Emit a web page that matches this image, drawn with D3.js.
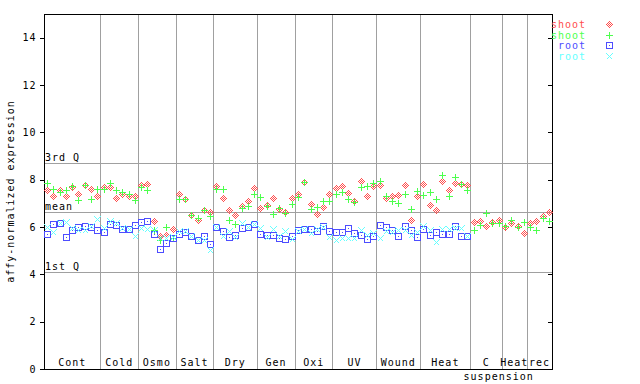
<!DOCTYPE html>
<html>
<head>
<meta charset="utf-8">
<script src="https://cdn.jsdelivr.net/npm/d3@7"></script>
<style>
  body { margin: 0; background: #fff; }
  svg text { font-family: 'DejaVu Sans Mono', monospace; font-size: 10px; letter-spacing: 1px; }
</style>
</head>
<body>
<div id="chart"></div>
<script>
const groupNames = ['Cont', 'Cold', 'Osmo', 'Salt', 'Dry', 'Gen', 'Oxi', 'UV', 'Wound', 'Heat', 'C', 'Heat', 'rec'];
const groupSizes = [9, 6, 6, 6, 7, 6, 6, 7, 7, 8, 5, 4, 4];

const shootA = [7.57, 7.29, 7.57, 7.29, 7.71, 7.38, 7.76, 7.60, 7.32,
  7.71, 7.69, 7.22, 7.41, 7.32, 7.33,
  7.79, 7.83, 6.27, 5.62, 5.68, 5.91,
  7.41, 7.18, 6.49, 6.28, 6.73, 6.62,
  7.74, 7.22, 6.73, 6.52, 6.90, 7.08, 7.65,
  6.80, 6.94, 7.22, 6.76, 6.64, 7.22,
  7.41, 7.89, 6.98, 6.56, 6.86, 7.41,
  7.65, 7.74, 7.45, 7.09, 7.93, 7.32, 7.73,
  7.78, 7.22, 7.32, 7.36, 7.79, 6.31, 7.32,
  7.83, 6.94, 6.73, 7.94, 7.57, 7.86, 7.80, 7.79,
  6.21, 6.27, 6.05, 6.22, 6.31,
  6.00, 6.17, 6.05, 5.74,
  6.19, 6.27, 6.45, 6.63];
const shootB = [7.86, 7.60, 7.46, 7.57, 7.74, 7.12, 7.79, 7.18, 7.60,
  7.60, 7.86, 7.57, 7.49, 7.41, 7.15,
  7.69, 7.57, 5.89, 5.46, 6.00, 5.53,
  7.18, 7.18, 6.52, 6.38, 6.70, 6.48,
  7.60, 7.60, 6.31, 6.14, 6.80, 6.90, 7.41,
  7.27, 6.87, 6.56, 6.80, 6.60, 6.98,
  7.27, 7.89, 6.76, 6.84, 7.08, 7.08,
  7.41, 7.50, 7.18, 7.07, 7.69, 7.74, 7.86,
  7.96, 7.30, 7.11, 7.01, 7.41, 6.76, 7.53,
  7.36, 7.48, 7.18, 8.21, 7.30, 8.12, 7.83, 7.56,
  5.87, 6.07, 6.59, 6.17, 6.19,
  6.03, 6.31, 5.98, 6.21,
  5.98, 5.86, 6.38, 6.27];
const rootA = [5.72, 6.14, 6.17, 5.58, 5.89, 6.00, 6.05, 6.00, 5.89,
  5.77, 6.14, 6.10, 5.91, 5.91, 6.08,
  6.22, 6.27, 5.72, 5.07, 5.34, 5.53,
  5.72, 5.77, 5.60, 5.46, 5.63, 5.29,
  5.98, 5.81, 5.58, 5.65, 5.96, 6.02, 6.14,
  5.72, 5.65, 5.65, 5.53, 5.50, 5.60,
  5.88, 5.91, 5.91, 5.84, 6.05, 5.83,
  5.79, 5.79, 5.95, 5.75, 5.66, 5.50, 5.60,
  6.10, 6.00, 5.86, 5.63, 6.05, 5.86, 5.58,
  5.91, 5.67, 5.80, 5.72, 5.71, 6.05, 5.63, 5.64];
const rootB = [6.02, 5.77, 6.15, 6.20, 5.96, 5.89, 5.89, 6.03, 6.34,
  5.96, 6.24, 6.19, 5.96, 5.91, 5.63,
  5.96, 5.91, 5.86, 5.53, 5.53, 5.58,
  5.82, 5.82, 5.60, 5.46, 5.46, 5.04,
  5.98, 5.60, 5.81, 5.58, 6.17, 6.00, 6.14,
  5.96, 5.58, 5.91, 5.60, 5.84, 5.50,
  5.84, 5.90, 5.75, 5.90, 6.00, 5.58,
  5.44, 5.53, 5.53, 5.53, 5.86, 5.67, 5.76,
  5.53, 5.84, 5.77, 5.86, 5.87, 5.67, 5.77,
  6.05, 5.86, 5.37, 5.92, 5.93, 5.96, 5.96, 5.64];

const quartLines = [['3rd Q', 8.70], ['mean', 6.63], ['1st Q', 4.08]];
const yTicks = [0, 2, 4, 6, 8, 10, 12, 14];

const series = [
  { name: 'shoot', values: shootA, color: '#ff4d4d', shape: 'diamond' },
  { name: 'shoot', values: shootB, color: '#4dff4d', shape: 'plus' },
  { name: 'root', values: rootA, color: '#4d4dff', shape: 'square' },
  { name: 'root', values: rootB, color: '#66ffff', shape: 'cross' },
];

const width = 640;
const height = 384;
const nSamples = d3.sum(groupSizes);

const svg = d3.select('#chart').append('svg')
  .attr('width', width)
  .attr('height', height);

const xScale = d3.scaleLinear().domain([0, nSamples]).range([44, 552]);
const yScale = d3.scaleLinear().domain([0, 15]).range([369, 14]);

// group separators
const bounds = d3.cumsum(groupSizes);
const groups = groupNames.map((name, i) => ({
  name,
  start: i === 0 ? 0 : bounds[i - 1],
  end: bounds[i],
}));

svg.append('g')
  .attr('shape-rendering', 'crispEdges')
  .selectAll('line')
  .data(bounds.slice(0, -1))
  .join('line')
  .attr('x1', (d) => Math.round(xScale(d)) + 0.5)
  .attr('x2', (d) => Math.round(xScale(d)) + 0.5)
  .attr('y1', yScale(15))
  .attr('y2', yScale(0))
  .attr('stroke', '#a0a0a0');

// quartile / mean lines
const ql = svg.append('g');
ql.selectAll('line')
  .data(quartLines)
  .join('line')
  .attr('shape-rendering', 'crispEdges')
  .attr('x1', xScale(0))
  .attr('x2', xScale(nSamples))
  .attr('y1', (d) => Math.round(yScale(d[1])) + 0.5)
  .attr('y2', (d) => Math.round(yScale(d[1])) + 0.5)
  .attr('stroke', '#a0a0a0');
ql.selectAll('text')
  .data(quartLines)
  .join('text')
  .attr('x', xScale(0) + 1)
  .attr('y', (d) => Math.round(yScale(d[1])) - 2)
  .text((d) => d[0]);

// axes
const yAxis = d3.axisLeft(yScale).tickValues(yTicks).tickSize(5).tickPadding(3);
const gy = svg.append('g')
  .attr('transform', `translate(${xScale(0) + 0.5},0)`)
  .attr('shape-rendering', 'crispEdges')
  .call(yAxis);
gy.select('.domain').remove();
gy.selectAll('text').style('font-size', '10px');

const gyr = svg.append('g')
  .attr('transform', `translate(${xScale(nSamples) + 0.5},0)`)
  .attr('shape-rendering', 'crispEdges')
  .call(d3.axisRight(yScale).tickValues(yTicks).tickSize(-5).tickFormat(''));
gyr.select('.domain').remove();

svg.append('rect')
  .attr('shape-rendering', 'crispEdges')
  .attr('x', xScale(0) + 0.5)
  .attr('y', yScale(15) + 0.5)
  .attr('width', xScale(nSamples) - xScale(0))
  .attr('height', yScale(0) - yScale(15))
  .attr('fill', 'none')
  .attr('stroke', '#000');

svg.append('text')
  .attr('transform', `translate(14,${yScale(7.5)}) rotate(-90)`)
  .attr('text-anchor', 'middle')
  .text('affy-normalized expression');

// group labels
svg.append('g')
  .selectAll('text')
  .data(groups)
  .join('text')
  .attr('x', (d) => xScale((d.start + d.end) / 2))
  .attr('y', yScale(0) - 3)
  .attr('text-anchor', 'middle')
  .text((d) => d.name);

svg.append('text')
  .attr('x', xScale((groups[10].start + groups[11].end) / 2))
  .attr('y', 380)
  .attr('text-anchor', 'middle')
  .text('suspension');

// markers, drawn pixel-like
const diamondPixels = [];
for (let dx = -3; dx <= 3; dx++) {
  for (let dy = -3; dy <= 3; dy++) {
    const d = Math.abs(dx) + Math.abs(dy);
    if (d === 1 || d === 3) diamondPixels.push([dx, dy]);
  }
}

function marker(g, shape, color) {
  if (shape === 'diamond') {
    g.selectAll('rect').data(diamondPixels).join('rect')
      .attr('x', (d) => d[0]).attr('y', (d) => d[1])
      .attr('width', 1).attr('height', 1).attr('fill', color);
  } else if (shape === 'plus') {
    g.append('path').attr('d', 'M-3,0.5H4M0.5,-3V4').attr('stroke', color).attr('fill', 'none');
  } else if (shape === 'square') {
    g.append('rect').attr('x', -2.5).attr('y', -2.5).attr('width', 6).attr('height', 6)
      .attr('fill', 'none').attr('stroke', color);
    g.append('rect').attr('x', 0).attr('y', 0).attr('width', 1).attr('height', 1).attr('fill', color);
  } else {
    g.append('path').attr('d', 'M-2.5,-2.5L3.5,3.5M-2.5,3.5L3.5,-2.5').attr('stroke', color).attr('fill', 'none');
  }
}

series.forEach((s) => {
  const layer = svg.append('g').attr('shape-rendering', 'crispEdges');
  s.values.forEach((v, i) => {
    const g = layer.append('g')
      .attr('transform', `translate(${Math.round(xScale(i + 0.5))},${Math.round(yScale(v))})`);
    marker(g, s.shape, s.color);
  });
});

// legend
const legend = svg.append('g');
series.forEach((s, i) => {
  const y = 24 + i * 10.7;
  legend.append('text')
    .attr('x', 586)
    .attr('y', y + 4)
    .attr('text-anchor', 'end')
    .attr('fill', s.color)
    .text(s.name);
  const g = legend.append('g')
    .attr('shape-rendering', 'crispEdges')
    .attr('transform', `translate(609,${Math.round(y)})`);
  marker(g, s.shape, s.color);
});
</script>
</body>
</html>
